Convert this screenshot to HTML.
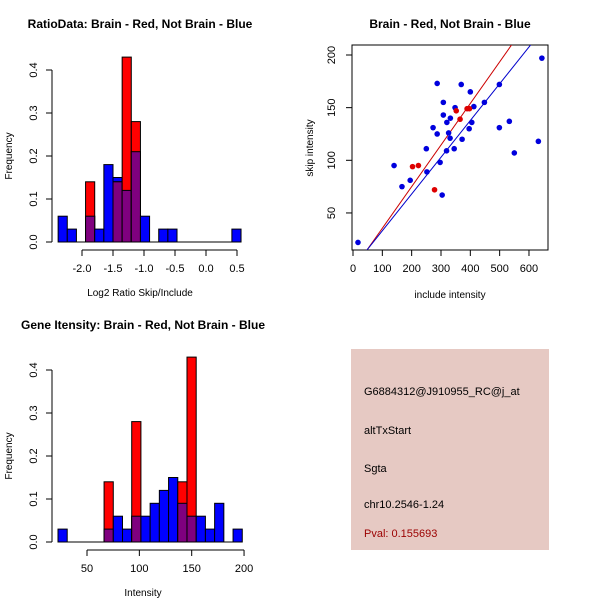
<!DOCTYPE html>
<html><head><meta charset="utf-8"><style>
body{margin:0;background:#fff}
svg{display:block;font-family:"Liberation Sans",sans-serif}
</style></head><body>
<svg id="c" width="600" height="600" xmlns="http://www.w3.org/2000/svg">
<rect width="600" height="600" fill="#fff"/>
<g>
<rect x="351" y="349" width="198" height="201" fill="#E6C9C3"/>
<text x="364" y="395" font-size="11">G6884312@J910955_RC@j_at</text>
<text x="364" y="434" font-size="11">altTxStart</text>
<text x="364" y="472" font-size="11">Sgta</text>
<text x="364" y="508" font-size="11">chr10.2546-1.24</text>
<text x="364" y="537" font-size="11" fill="#9B0000">Pval: 0.155693</text>
</g>
</svg>
<script>
const ratioBlue=[0.06,0.03,0,0.06,0.03,0.18,0.15,0.12,0.21,0.06,0,0.03,0.03,0,0,0,0,0,0,0.03];
const ratioRed=[0,0,0,0.14,0,0,0.14,0.43,0.28,0,0,0,0,0,0,0,0,0,0,0];
const ratioBinStart=-2.385, ratioBinWidth=0.1475;
const ratioXTicks=[-2.0,-1.5,-1.0,-0.5,0.0,0.5];
const freqTicks=[0.0,0.1,0.2,0.3,0.4];
const intBlue=[0.03,0,0,0,0,0.03,0.06,0.03,0.06,0.06,0.09,0.12,0.15,0.09,0.06,0.06,0.03,0.09,0,0.03];
const intRed=[0,0,0,0,0,0.14,0,0,0.28,0,0,0,0,0.14,0.43,0,0,0,0,0];
const intBinStart=22.3, intBinWidth=8.8;
const intXTicks=[50,100,150,200];
const blueInc=[17,140,167,195,250,252,273,287,287,297,308,308,304,320,332,326,331,319,345,348,369,372,396,400,405,412,448,499,499,533,550,632,644];
const blueSkip=[22,95,75,81,111,89,131,125,173,98,155,143,67,136,140,126,121,109,111,150,172,120,130,165,136,151,155,172,131,137,107,118,197];
const redInc=[203,223,278,352,365,389,397];
const redSkip=[94,95,72,147,139,149,149];
const redFit=[0.395,-4], blueFit=[0.349,-1.8];
const scXTicks=[0,100,200,300,400,500,600];
const scYTicks=[50,100,150,200];

const svg=document.getElementById('c');
const NS='http://www.w3.org/2000/svg';
function mk(tag,at,parent){const e=document.createElementNS(NS,tag);for(const k in at)e.setAttribute(k,at[k]);(parent||svg).appendChild(e);return e;}
function txt(x,y,s,size,parent,extra){const t=mk('text',Object.assign({x:x,y:y,'font-size':size,'text-anchor':'middle'},extra||{}),parent);t.textContent=s;return t;}

function hist(cfg){
  const g=mk('g',{});
  
  
  const X=v=>cfg.x0px+(v-cfg.x0val)*cfg.xs;
  const Y=v=>cfg.y0px-v*cfg.ys;
  for(let i=0;i<cfg.blue.length;i++){
    const a=cfg.bStart+i*cfg.bW, b=a+cfg.bW, bl=cfg.blue[i], rd=cfg.red[i];
    const x1=X(a), w=X(b)-x1;
    if(bl>0){const r=mk('rect',{x:x1,y:Y(bl),width:w,height:Y(0)-Y(bl),fill:'#0000FF',stroke:'#000','stroke-width':1},g);
      }
    if(rd>0){const r=mk('rect',{x:x1,y:Y(rd),width:w,height:Y(0)-Y(rd),fill:'#FF0000',stroke:'#000','stroke-width':1},g);
      
      const m=Math.min(bl,rd);
      if(m>0){const p=mk('rect',{x:x1,y:Y(m),width:w,height:Y(0)-Y(m),fill:'#7F007F',stroke:'#000','stroke-width':1},g);
        }}
  }
  mk('line',{x1:X(cfg.bStart),x2:X(cfg.bStart+cfg.blue.length*cfg.bW),y1:Y(0),y2:Y(0),stroke:'#000'},g);
  const ya=mk('g',{},g);
  mk('line',{x1:cfg.yaxX,x2:cfg.yaxX,y1:Y(0),y2:Y(0.4),stroke:'#000'},ya);
  freqTicks.forEach(t=>{mk('line',{x1:cfg.yaxX-6,x2:cfg.yaxX,y1:Y(t),y2:Y(t),stroke:'#000'},ya);
    const lx=cfg.yaxX-18;
    const l=txt(lx,Y(t),t.toFixed(1),11,ya,{transform:`rotate(-90 ${lx} ${Y(t)})`,'dominant-baseline':'central'});
    });
  const xa=mk('g',{},g);
  const tk=cfg.xticks;
  mk('line',{x1:X(tk[0]),x2:X(tk[tk.length-1]),y1:cfg.xaxY,y2:cfg.xaxY,stroke:'#000'},xa);
  tk.forEach(t=>{mk('line',{x1:X(t),x2:X(t),y1:cfg.xaxY,y2:cfg.xaxY+6,stroke:'#000'},xa);
    const l=txt(X(t),cfg.xaxY+22,cfg.fmt(t),11,xa);});
  const xt=txt(cfg.titleX,cfg.xaxY+46,cfg.xlab,10,g);
  const yt=txt(12,(Y(0)+Y(0.4))/2,'Frequency',10,g,{transform:`rotate(-90 12 ${(Y(0)+Y(0.4))/2})`});
  
  const tt=txt(cfg.titleX,cfg.titleY,cfg.title,12,g,{'font-weight':'bold'});
}
hist({name:'ratio-histogram',blue:ratioBlue,red:ratioRed,bStart:ratioBinStart,bW:ratioBinWidth,x0px:82,x0val:-2.0,xs:62,y0px:242,ys:430,
  yaxX:52,xaxY:250,xticks:ratioXTicks,fmt:t=>t.toFixed(1),xlab:'Log2 Ratio Skip/Include',titleX:140,titleY:28,title:'RatioData: Brain - Red, Not Brain - Blue'});
hist({name:'intensity-histogram',blue:intBlue,red:intRed,bStart:intBinStart,bW:intBinWidth,x0px:87,x0val:50,xs:1.047,y0px:542,ys:430,
  yaxX:52,xaxY:550,xticks:intXTicks,fmt:t=>String(t),xlab:'Intensity',titleX:143,titleY:329,title:'Gene Itensity: Brain - Red, Not Brain - Blue'});

const sg=mk('g',{});
const L=352,R=548,T=45,B=250;
const SX=v=>353+v*0.2933, SY=v=>55+(200-v)*1.053;
const box=mk('rect',{x:L,y:T,width:R-L,height:B-T,fill:'none',stroke:'#000'},sg);

const cp=mk('clipPath',{id:'sc'},sg);mk('rect',{x:L,y:T,width:R-L,height:B-T},cp);
[[redFit,'#CC0000','red-fit-line'],[blueFit,'#0000CC','blue-fit-line']].forEach(([f,c,n])=>{
  const ln=mk('line',{x1:SX(0),y1:SY(f[1]),x2:SX(700),y2:SY(f[0]*700+f[1]),stroke:c,'clip-path':'url(#sc)'},sg);
  });
blueInc.forEach((v,i)=>{const p=mk('circle',{cx:SX(v),cy:SY(blueSkip[i]),r:2.8,fill:'#0000DD'},sg);
  });
redInc.forEach((v,i)=>{const p=mk('circle',{cx:SX(v),cy:SY(redSkip[i]),r:2.8,fill:'#DD0000'},sg);
  });
scXTicks.forEach(t=>{mk('line',{x1:SX(t),x2:SX(t),y1:B,y2:B+6,stroke:'#000'},sg);
  const l=txt(SX(t),B+22,String(t),11,sg);});
scYTicks.forEach(t=>{mk('line',{x1:L,x2:L-6,y1:SY(t),y2:SY(t),stroke:'#000'},sg);
  const lx=L-20;
  const l=txt(lx,SY(t),String(t),11,sg,{transform:`rotate(-90 ${lx} ${SY(t)})`,'dominant-baseline':'central'});});
const sx=txt(450,298,'include intensity',10,sg);
const sy=txt(313,148,'skip intensity',10,sg,{transform:'rotate(-90 313 148)'});
const st=txt(450,28,'Brain - Red, Not Brain - Blue',12,sg,{'font-weight':'bold'});
</script>
</body></html>
